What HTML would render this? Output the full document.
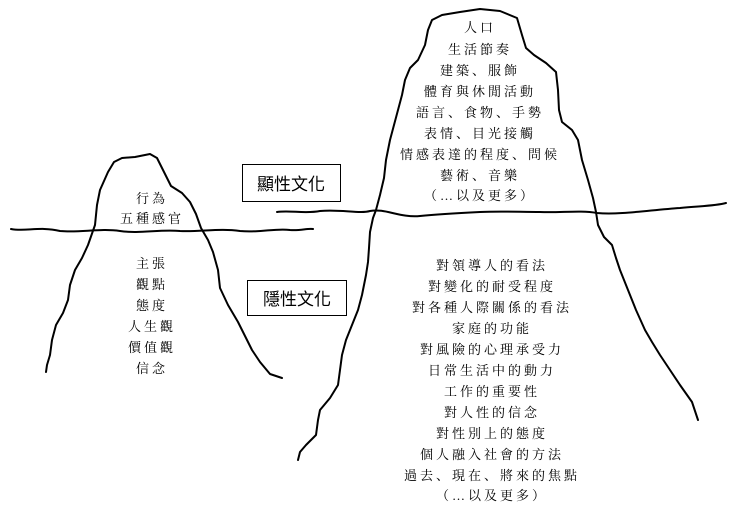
<!DOCTYPE html>
<html><head><meta charset="utf-8"><style>
html,body{margin:0;padding:0;background:#fff;}
svg{display:block}
.t{font-family:"Liberation Serif","Noto Serif CJK SC","Noto Sans CJK TC",serif;font-size:13px;letter-spacing:3px;fill:#000;text-anchor:middle}
.b{font-family:"Liberation Sans","Noto Sans CJK TC",sans-serif;font-size:17px;fill:#000;text-anchor:middle}
path{fill:none;stroke:#000;stroke-width:2;stroke-linejoin:round;stroke-linecap:round}
</style></head><body>
<svg width="736" height="513" viewBox="0 0 736 513">
<!-- left iceberg -->
<path d="M46,372 L47,365 L50,355 L52,340 L56,325 L63,313 L68,300 L70,285 L75,270 L82,258 L88,245 L95,225 L97,205 L100,190 L108,172 L114,162 L122,158 L135,157 L150,154 L157,158 L163,170 L171,186 L182,193 L190,202 L196,214 L201,228 L208,240 L213,252 L218,270 L220,288 L228,305 L238,322 L246,338 L252,350 L260,362 L270,374 L282,378"/>
<!-- left waterline -->
<path d="M11,229 C25,232 40,226 60,231 C80,233 100,228 120,231 C140,234 160,229 180,231 C200,232 220,228 240,231 C260,233 275,228 290,230 C300,231 308,228 313,229"/>
<!-- right waterline -->
<path d="M277,212 C290,210 305,214 320,211 C340,209 360,214 370,211 C385,208 400,218 420,216 C440,214 460,213 480,212 C500,211 520,212 540,212 C560,213 580,210 597,213 C620,215 650,210 680,208 C700,206 715,206 726,203"/>
<!-- right iceberg -->
<path d="M298,460 L300,452 L306,445 L316,435 L318,420 L320,410 L330,398 L338,385 L340,370 L342,355 L346,340 L352,325 L358,310 L362,295 L366,275 L368,262 L369,248 L370,232 L373,218 L376,210 L380,195 L384,178 L386,160 L390,140 L398,110 L402,95 L405,80 L410,68 L418,60 L425,45 L428,30 L432,20 L442,15 L460,12 L480,9 L500,11 L517,18 L522,35 L526,48 L534,55 L546,63 L556,72 L558,90 L559,110 L562,122 L572,130 L578,140 L582,160 L588,180 L593,198 L596,212 L598,225 L604,237 L612,245 L616,258 L620,270 L628,290 L636,310 L645,330 L652,342 L660,355 L670,370 L680,385 L692,402 L698,420"/>
<!-- boxes -->
<rect x="242.5" y="164.5" width="98" height="37" fill="none" stroke="#000" stroke-width="1"/>
<text class="b" x="291" y="190">顯性文化</text>
<rect x="247.5" y="280.5" width="99" height="35" fill="none" stroke="#000" stroke-width="1"/>
<text class="b" x="297" y="305">隱性文化</text>
<!-- left text -->
<g class="t">
<text x="152" y="203">行為</text>
<text x="152" y="223">五種感官</text>
<text x="152" y="268">主張</text>
<text x="152" y="289">觀點</text>
<text x="152" y="310">態度</text>
<text x="152" y="331">人生觀</text>
<text x="152" y="352">價值觀</text>
<text x="152" y="373">信念</text>
</g>
<!-- right top text -->
<g class="t">
<text x="480" y="32">人口</text>
<text x="480" y="54">生活節奏</text>
<text x="480" y="75">建築、服飾</text>
<text x="480" y="96">體育與休閒活動</text>
<text x="480" y="117">語言、食物、手勢</text>
<text x="480" y="138">表情、目光接觸</text>
<text x="480" y="159">情感表達的程度、問候</text>
<text x="480" y="180">藝術、音樂</text>
<text x="480" y="200">（…以及更多）</text>
</g>
<!-- right bottom text -->
<g class="t">
<text x="492" y="270">對領導人的看法</text>
<text x="492" y="291">對變化的耐受程度</text>
<text x="492" y="312">對各種人際關係的看法</text>
<text x="492" y="333">家庭的功能</text>
<text x="492" y="354">對風險的心理承受力</text>
<text x="492" y="375">日常生活中的動力</text>
<text x="492" y="396">工作的重要性</text>
<text x="492" y="417">對人性的信念</text>
<text x="492" y="438">對性別上的態度</text>
<text x="492" y="459">個人融入社會的方法</text>
<text x="492" y="480">過去、現在、將來的焦點</text>
<text x="492" y="500">（…以及更多）</text>
</g>
</svg>
</body></html>
